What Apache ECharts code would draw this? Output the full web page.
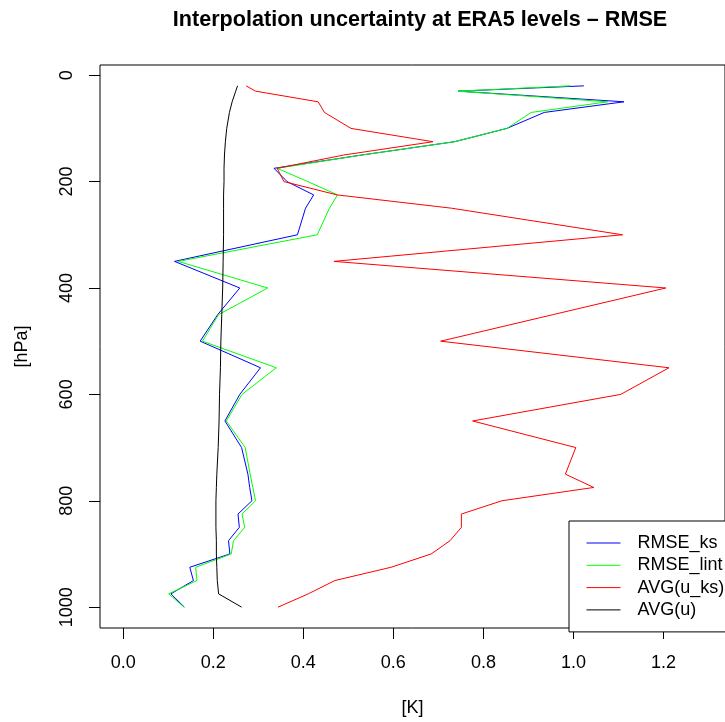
<!DOCTYPE html>
<html>
<head>
<meta charset="utf-8">
<script src="https://cdn.jsdelivr.net/npm/echarts@6/dist/echarts.min.js"></script>
<style>
  html, body { margin: 0; padding: 0; background: #fff; }
  #chart { width: 725px; height: 722px; }
</style>
</head>
<body>
<div id="chart"></div>
<script>
// pressure levels [hPa]
const levels = [20, 30, 50, 70, 100, 125, 150, 175, 200, 225, 250, 300, 350, 400, 450, 500,
  550, 600, 650, 700, 750, 775, 800, 825, 850, 875, 900, 925, 950, 975, 1000]

// values [K], one per level
const rmseKs = [1.023, 0.744, 1.112, 0.935, 0.852, 0.736, 0.53, 0.335, 0.364, 0.423, 0.405, 0.387,
  0.114, 0.259, 0.210, 0.171, 0.305, 0.259, 0.226, 0.263, 0.277, 0.281, 0.286, 0.255, 0.258,
  0.234, 0.237, 0.148, 0.156, 0.106, 0.136]
const rmseLint = [0.993, 0.744, 1.076, 0.906, 0.852, 0.736, 0.53, 0.342, 0.41, 0.476, 0.458, 0.431,
  0.122, 0.321, 0.212, 0.176, 0.340, 0.264, 0.229, 0.271, 0.282, 0.288, 0.294, 0.264, 0.270,
  0.245, 0.240, 0.161, 0.164, 0.101, 0.135]
const avgUks = [0.273, 0.294, 0.433, 0.447, 0.506, 0.688, 0.49, 0.342, 0.357, 0.475, 0.729, 1.109,
  0.468, 1.205, 0.955, 0.705, 1.212, 1.105, 0.776, 1.005, 0.982, 1.045, 0.841, 0.751, 0.751,
  0.726, 0.684, 0.595, 0.470, 0.411, 0.344]
const avgU = [0.254, 0.250, 0.242, 0.236, 0.230, 0.227, 0.225, 0.224, 0.224, 0.223, 0.223, 0.223,
  0.222, 0.221, 0.219, 0.217, 0.216, 0.214, 0.213, 0.211, 0.208, 0.207, 0.206, 0.206, 0.206,
  0.207, 0.207, 0.208, 0.209, 0.212, 0.263]

// axis ticks
const xTicks = [0, 0.2, 0.4, 0.6, 0.8, 1.0, 1.2]
const yTicks = [0, 200, 400, 600, 800, 1000]

const seriesNames = ['RMSE_ks', 'RMSE_lint', 'AVG(u_ks)', 'AVG(u)']
const seriesColors = ['#0000ff', '#00ff00', '#ff0000', '#000000']

const FONT = 'Liberation Sans, Arial, sans-serif'

// pair each value with its level
function toPoints(values) {
  return values.map((v, i) => [v, levels[i]])
}

function buildSeries() {
  return [rmseKs, rmseLint, avgUks, avgU].map((values, i) => ({
    name: seriesNames[i],
    type: 'line',
    data: toPoints(values),
    symbol: 'none',
    color: seriesColors[i],
    lineStyle: { width: 1, color: seriesColors[i] },
    animation: false
  }))
}

function initChart() {
  const el = document.getElementById('chart')
  const chart = echarts.init(el, null, { renderer: 'canvas' })

  const option = {
    backgroundColor: '#fff',
    animation: false,
    title: {
      text: 'Interpolation uncertainty at ERA5 levels \u2013 RMSE',
      left: 420,
      top: 9,
      padding: 0,
      textAlign: 'center',
      textStyle: { fontFamily: FONT, fontSize: 21.6, fontWeight: 'bold', color: '#000' }
    },
    grid: {
      left: 100,
      top: 65,
      width: 640,
      height: 567,
      show: true,
      borderColor: '#000',
      borderWidth: 1,
      backgroundColor: 'transparent'
    },
    legend: {
      data: seriesNames,
      orient: 'vertical',
      left: 569,
      top: 521,
      padding: [13, 12, 13, 17],
      itemWidth: 34,
      itemHeight: 14,
      itemGap: 4.3,
      backgroundColor: '#fff',
      borderColor: '#000',
      borderWidth: 1,
      borderRadius: 0,
      itemStyle: { opacity: 0, borderWidth: 0 }, // line only, no marker
      lineStyle: { width: 1 },
      textStyle: { fontFamily: FONT, fontSize: 18, color: '#000', padding: [0, 0, 0, 12] }
    },
    xAxis: {
      type: 'value',
      min: -0.0514,
      max: 1.3364,
      name: '[K]',
      nameLocation: 'middle',
      nameGap: 71,
      nameTextStyle: { fontFamily: FONT, fontSize: 18, color: '#000' },
      axisLine: { show: false, onZero: false },
      splitLine: { show: false },
      axisTick: {
        show: true,
        inside: false,
        length: 11,
        customValues: xTicks,
        lineStyle: { color: '#000', width: 1 }
      },
      axisLabel: {
        customValues: xTicks,
        margin: 26,
        fontFamily: FONT,
        fontSize: 18,
        color: '#000',
        formatter: (v) => v.toFixed(1)
      }
    },
    yAxis: {
      type: 'value',
      inverse: true,
      min: -19.2,
      max: 1039.2,
      name: '[hPa]',
      nameLocation: 'middle',
      nameGap: 69,
      nameTextStyle: { fontFamily: FONT, fontSize: 18, color: '#000' },
      axisLine: { show: false, onZero: false },
      splitLine: { show: false },
      axisTick: {
        show: true,
        inside: false,
        length: 11,
        customValues: yTicks,
        lineStyle: { color: '#000', width: 1 }
      },
      axisLabel: {
        customValues: yTicks,
        rotate: 90,
        margin: 24,
        fontFamily: FONT,
        fontSize: 18,
        color: '#000',
        formatter: (v) => String(v)
      }
    },
    series: buildSeries()
  }

  chart.setOption(option, true)
  return chart
}

initChart()
</script>
</body>
</html>
